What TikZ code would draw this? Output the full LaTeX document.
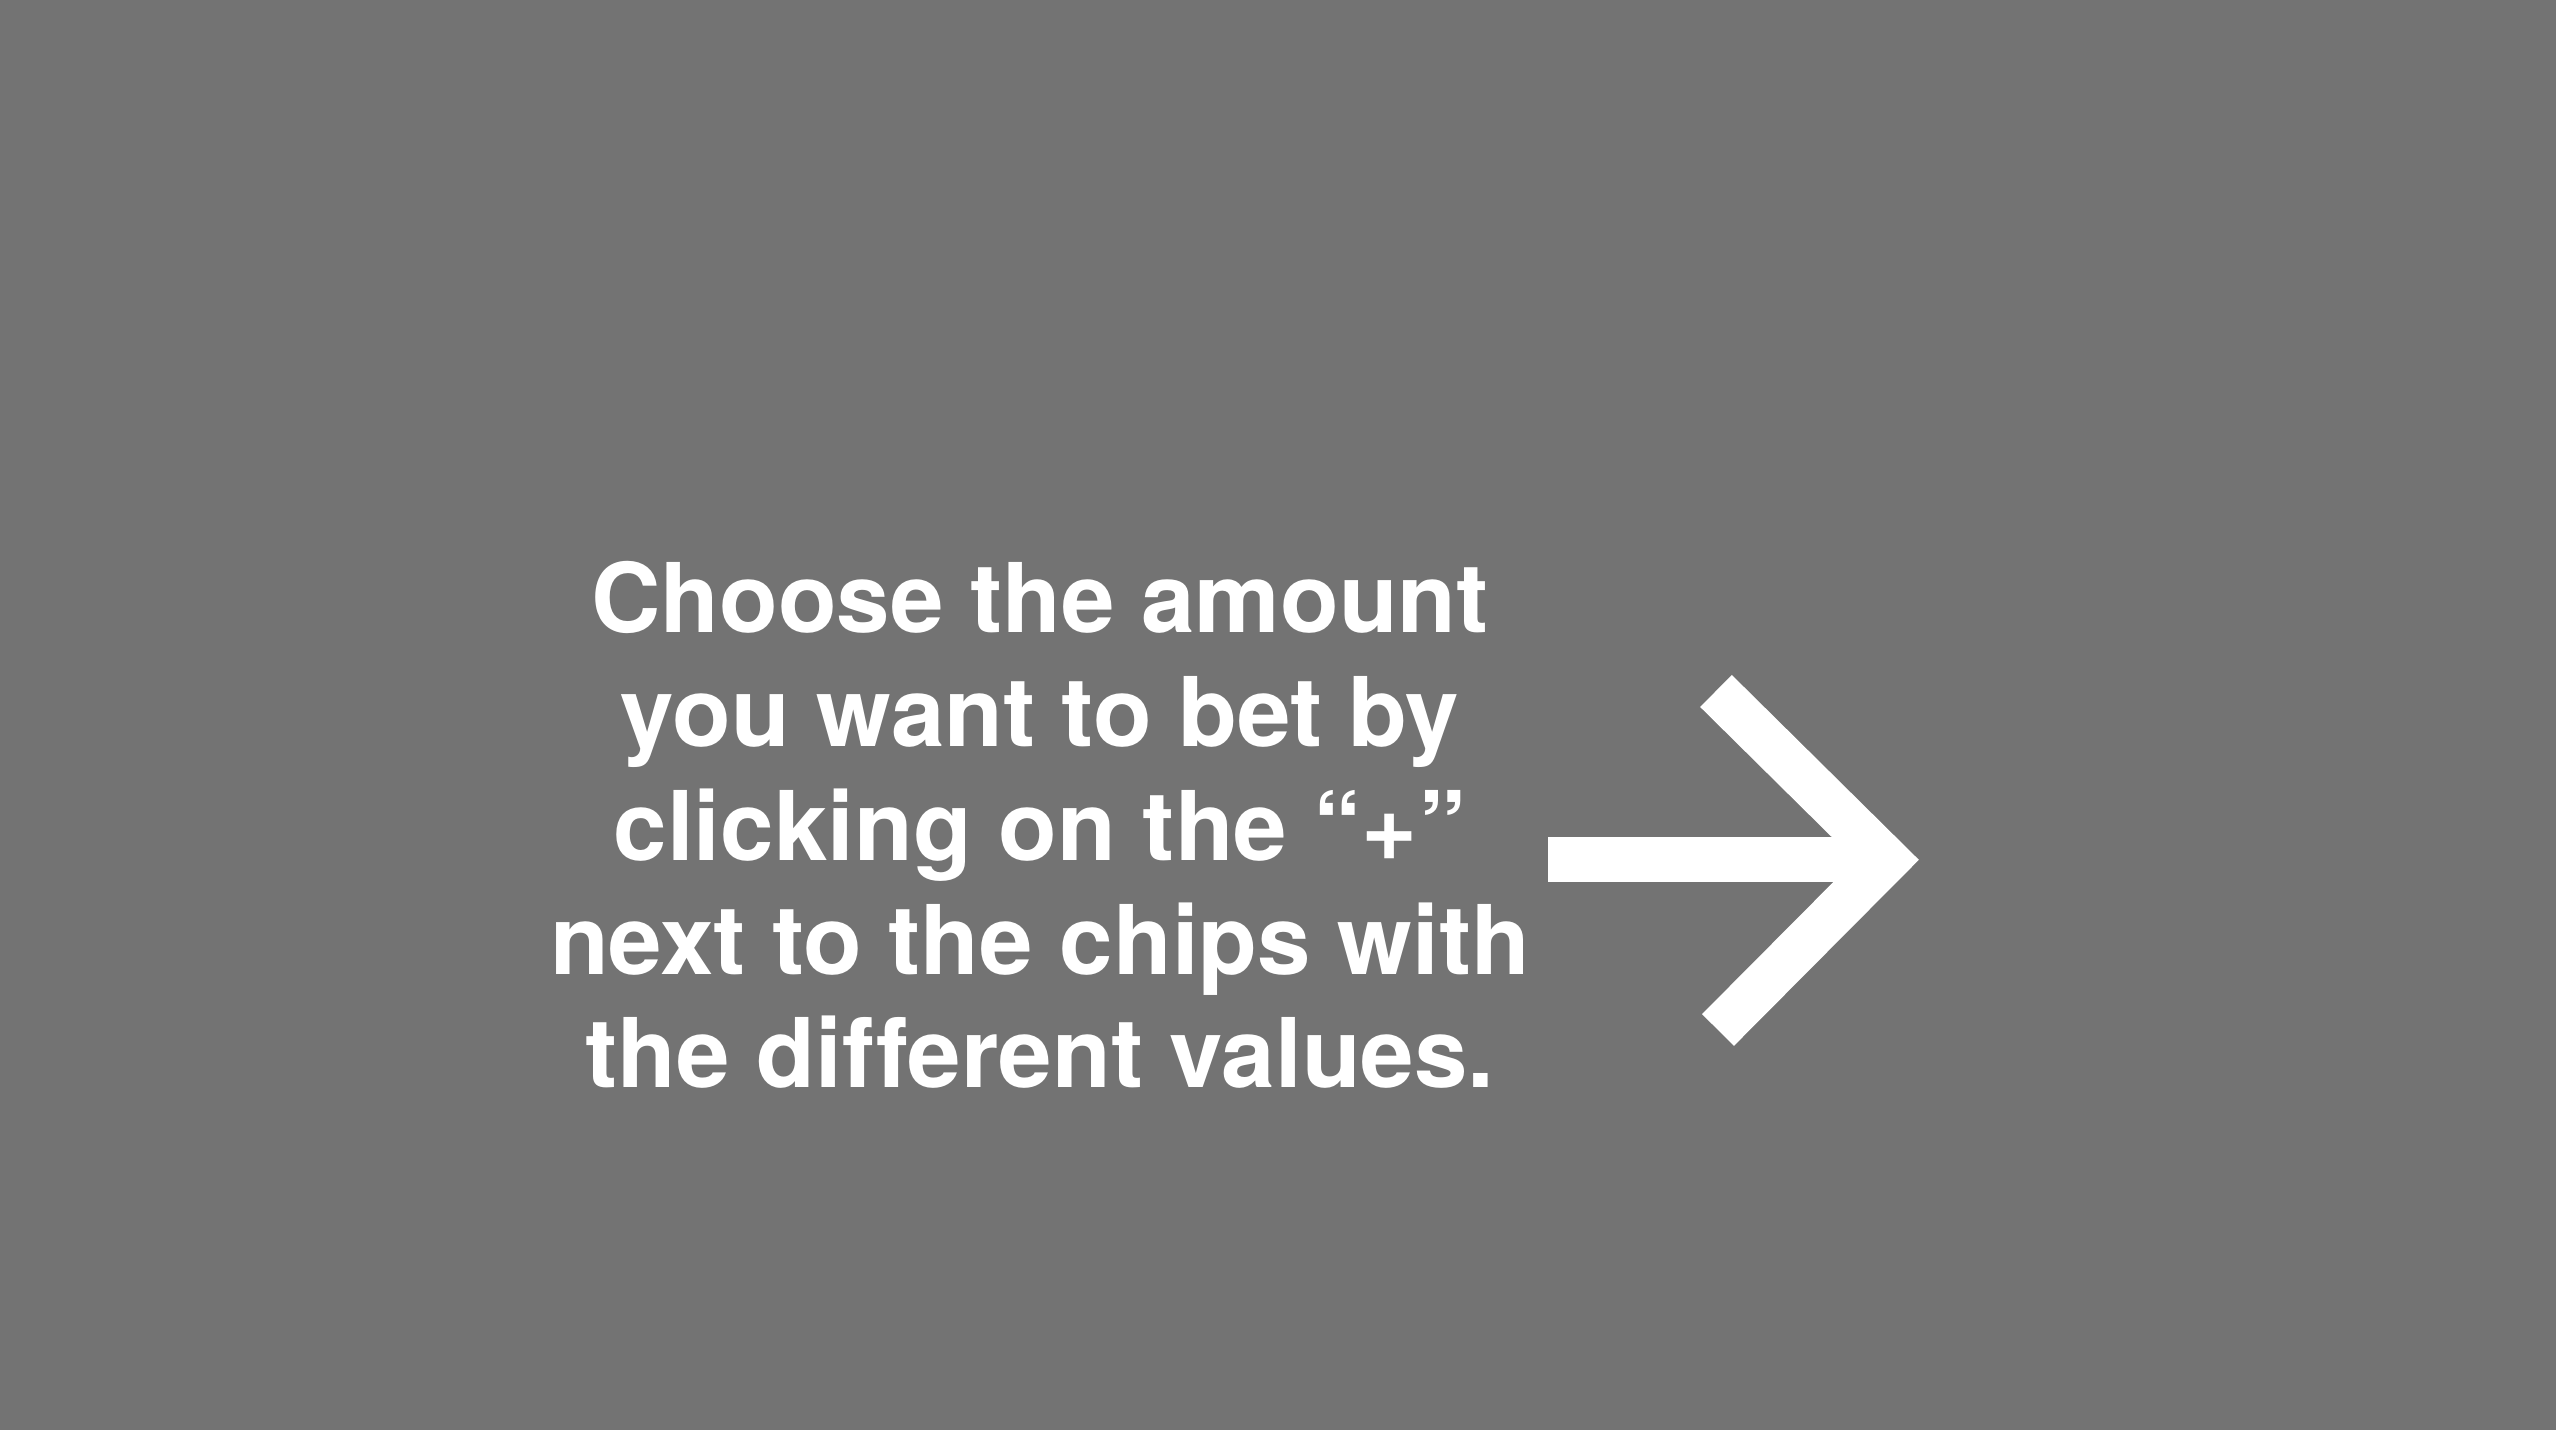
\documentclass[tikz,border=0pt]{standalone}
\usepackage{fontspec}
\setmainfont[Ligatures=NoCommon]{TeX Gyre Heros}
\definecolor{slide}{RGB}{115,115,115}

\begin{document}
\begin{tikzpicture}[
  hint/.style={text=white, font=\fontsize{27.35}{32.4}\selectfont\bfseries, align=center},
  pointer/.style={draw=white, line width=0.45cm}
]
  \fill[slide] (0,0) rectangle (25.56,14.30);
  \useasboundingbox (0,0) rectangle (25.56,14.30);

  \node[hint] (hint) at (10.40,6.05) {Choose the amount\\ you want to bet by\\ clicking on the “+”\\ next to the chips with\\ the different values.};

  \coordinate (tail) at (15.48,5.70);
  \coordinate (tip) at (18.87,5.70);
  \coordinate (upper) at (17.16,7.39);
  \coordinate (lower) at (17.18,4.00);
  \draw[pointer] (tail) -- ([xshift=-0.1cm]tip);
  \draw[pointer] (upper) -- (tip) -- (lower);
\end{tikzpicture}
\end{document}
